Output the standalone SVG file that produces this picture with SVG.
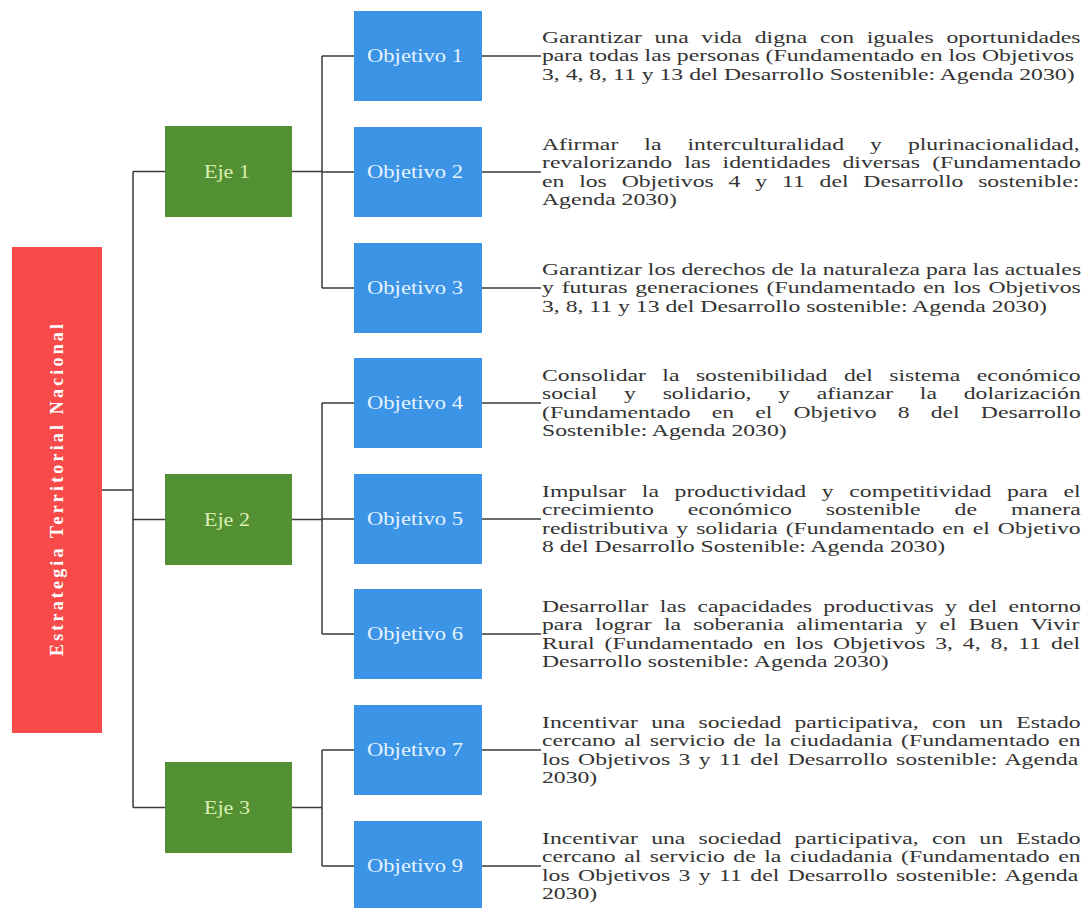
<svg xmlns="http://www.w3.org/2000/svg" width="1086" height="908" viewBox="0 0 1086 908">
<style>
.obj{fill:#3b94e6}
.eje{fill:#538f33}
.root{fill:#f94a4a}
.ol{font-family:"Liberation Serif",serif;font-size:18px;fill:#e6f3ff;text-anchor:middle}
.el{font-family:"Liberation Serif",serif;font-size:18px;fill:#dcefb0;text-anchor:middle}
.rl{font-family:"Liberation Serif",serif;font-size:18px;font-weight:bold;fill:#ffffff;text-anchor:middle}
.p{font-family:"Liberation Serif",serif;font-size:17px;fill:#333}
.c{fill:none;stroke:#3a3a3a;stroke-width:1.5}
</style>
<rect width="1086" height="908" fill="#ffffff"/>
<g id="connectors" class="c">
<path d="M102 490H133M133 171.5V807.5M133 171.5H165M133 519.5H165M133 807.5H165"/>
<path d="M292 171.5H322M322 56V288M322 56H354M322 172H354M322 288H354"/>
<path d="M292 519.5H322M322 403V634M322 403H354M322 519H354M322 634H354"/>
<path d="M292 807.5H322M322 750V866M322 750H354M322 866H354"/>
<path d="M482 56H541M482 172H541M482 288H541M482 403H541M482 519H541M482 634H541M482 750H541M482 866H541"/>
</g>
<g id="root">
<rect class="root" x="12" y="247" width="90" height="486"/>
<text class="rl" transform="translate(63 490) rotate(-90)" x="0" y="0" textLength="332" lengthAdjust="spacing">Estrategia Territorial Nacional</text>
</g>
<g id="eje1"><rect class="eje" x="165" y="126" width="127" height="91"/><text class="el" x="227" y="177.5" textLength="46" lengthAdjust="spacingAndGlyphs">Eje 1</text></g>
<g id="eje2"><rect class="eje" x="165" y="474" width="127" height="91"/><text class="el" x="227" y="525.5" textLength="46" lengthAdjust="spacingAndGlyphs">Eje 2</text></g>
<g id="eje3"><rect class="eje" x="165" y="762" width="127" height="91"/><text class="el" x="227" y="813.5" textLength="46" lengthAdjust="spacingAndGlyphs">Eje 3</text></g>
<g id="obj1"><rect class="obj" x="354" y="11" width="128" height="90"/><text class="ol" x="415" y="62" textLength="96" lengthAdjust="spacingAndGlyphs">Objetivo 1</text></g>
<g id="obj2"><rect class="obj" x="354" y="127" width="128" height="90"/><text class="ol" x="415" y="178" textLength="96" lengthAdjust="spacingAndGlyphs">Objetivo 2</text></g>
<g id="obj3"><rect class="obj" x="354" y="243" width="128" height="90"/><text class="ol" x="415" y="294" textLength="96" lengthAdjust="spacingAndGlyphs">Objetivo 3</text></g>
<g id="obj4"><rect class="obj" x="354" y="358" width="128" height="90"/><text class="ol" x="415" y="409" textLength="96" lengthAdjust="spacingAndGlyphs">Objetivo 4</text></g>
<g id="obj5"><rect class="obj" x="354" y="474" width="128" height="90"/><text class="ol" x="415" y="525" textLength="96" lengthAdjust="spacingAndGlyphs">Objetivo 5</text></g>
<g id="obj6"><rect class="obj" x="354" y="589" width="128" height="90"/><text class="ol" x="415" y="640" textLength="96" lengthAdjust="spacingAndGlyphs">Objetivo 6</text></g>
<g id="obj7"><rect class="obj" x="354" y="705" width="128" height="90"/><text class="ol" x="415" y="756" textLength="96" lengthAdjust="spacingAndGlyphs">Objetivo 7</text></g>
<g id="obj9"><rect class="obj" x="354" y="821" width="128" height="90"/><text class="ol" x="415" y="872" textLength="96" lengthAdjust="spacingAndGlyphs">Objetivo 9</text></g>
<g id="descriptions" transform="translate(542 0) scale(1.3937 1)">
<g id="desc1" class="p">
<text x="0" y="43.1" word-spacing="4.8">Garantizar una vida digna con iguales oportunidades</text>
<text x="0" y="61.5">para todas las personas (Fundamentado en los Objetivos</text>
<text x="0" y="79.9">3, 4, 8, 11 y 13 del Desarrollo Sostenible: Agenda 2030)</text>
</g>
<g id="desc2" class="p">
<text x="0" y="149.9" word-spacing="14.45">Afirmar la interculturalidad y plurinacionalidad,</text>
<text x="0" y="168.3" word-spacing="4.4">revalorizando las identidades diversas (Fundamentado</text>
<text x="0" y="186.7" word-spacing="6.4">en los Objetivos 4 y 11 del Desarrollo sostenible:</text>
<text x="0" y="205.1">Agenda 2030)</text>
</g>
<g id="desc3" class="p">
<text x="0" y="275.1">Garantizar los derechos de la naturaleza para las actuales</text>
<text x="0" y="293.5" word-spacing="1.35">y futuras generaciones (Fundamentado en los Objetivos</text>
<text x="0" y="311.9">3, 8, 11 y 13 del Desarrollo sostenible: Agenda 2030)</text>
</g>
<g id="desc4" class="p">
<text x="0" y="380.9" word-spacing="7.55">Consolidar la sostenibilidad del sistema económico</text>
<text x="0" y="399.3" word-spacing="14.97">social y solidario, y afianzar la dolarización</text>
<text x="0" y="417.7" word-spacing="10.95">(Fundamentado en el Objetivo 8 del Desarrollo</text>
<text x="0" y="436.1">Sostenible: Agenda 2030)</text>
</g>
<g id="desc5" class="p">
<text x="0" y="496.9" word-spacing="7.0">Impulsar la productividad y competitividad para el</text>
<text x="0" y="515.3" word-spacing="20.2">crecimiento económico sostenible de manera</text>
<text x="0" y="533.7" word-spacing="1.5">redistributiva y solidaria (Fundamentado en el Objetivo</text>
<text x="0" y="552.1">8 del Desarrollo Sostenible: Agenda 2030)</text>
</g>
<g id="desc6" class="p">
<text x="0" y="611.9" word-spacing="3.9">Desarrollar las capacidades productivas y del entorno</text>
<text x="0" y="630.3" word-spacing="4.6">para lograr la soberania alimentaria y el Buen Vivir</text>
<text x="0" y="648.7" word-spacing="2.9">Rural (Fundamentado en los Objetivos 3, 4, 8, 11 del</text>
<text x="0" y="667.1">Desarrollo sostenible: Agenda 2030)</text>
</g>
<g id="desc7" class="p">
<text x="0" y="727.9" word-spacing="5.2">Incentivar una sociedad participativa, con un Estado</text>
<text x="0" y="746.3" word-spacing="1.9">cercano al servicio de la ciudadania (Fundamentado en</text>
<text x="0" y="764.7" word-spacing="1.8">los Objetivos 3 y 11 del Desarrollo sostenible: Agenda</text>
<text x="0" y="783.1">2030)</text>
</g>
<g id="desc9" class="p">
<text x="0" y="843.9" word-spacing="5.2">Incentivar una sociedad participativa, con un Estado</text>
<text x="0" y="862.3" word-spacing="1.9">cercano al servicio de la ciudadania (Fundamentado en</text>
<text x="0" y="880.7" word-spacing="1.8">los Objetivos 3 y 11 del Desarrollo sostenible: Agenda</text>
<text x="0" y="899.1">2030)</text>
</g>
</g>
</svg>
